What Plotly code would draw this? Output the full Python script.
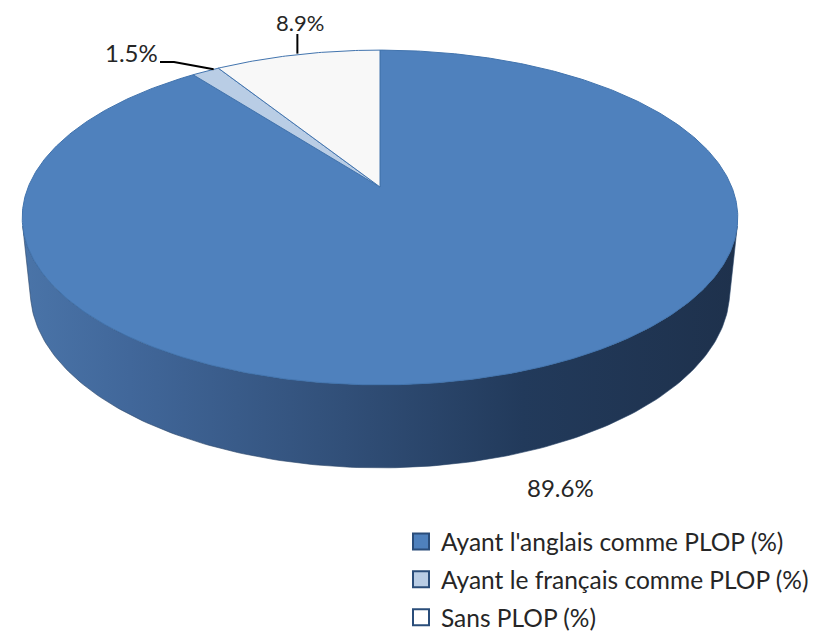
import numpy as np
import plotly.graph_objects as go

# ---------------- data ----------------
categories = ["Ayant l'anglais comme PLOP (%)",
              "Ayant le français comme PLOP (%)",
              "Sans PLOP (%)"]
values = [89.6, 1.5, 8.9]
slice_colors = ["#4F81BD", "#B9CDE5", "#F8F8F8"]
wall_scales = [
    [[0, "#4A74A8"], [0.15, "#41679A"], [0.45, "#314F78"], [0.7, "#223A5B"], [1, "#1E314C"]],
    [[0, "#A6B9CF"], [1, "#6F7F92"]],
    [[0, "#E0E0E0"], [1, "#A0A0A0"]],
]
label_pos = [(560, 487), (131, 52), (300, 22)]  # label text centres (px)
label_size = [24, 24, 22]

# ---------------- projection (3-D pie look) ----------------
W, HGT = 817, 640
OFF = 8  # page body margin compensation
CX, CY = 380.0, 187.0
F = 1715.0
DIST = 4.875
S = 0.46
C = np.sqrt(1 - S * S)
DEPTH = 0.2375
FONT = "Lato"


def proj(X, Z, Yw=0.0):
    d = -S * Yw + DIST - C * Z
    w = C * Yw - S * Z
    return CX + F * X / d, CY - F * w / d


def rim(a0, a1, Yw=0.0, n=200):
    a = np.linspace(a0, a1, max(int(n * abs(a1 - a0) / (2 * np.pi)) + 2, 3))
    return proj(np.sin(a), -np.cos(a), Yw)


total = sum(values)
fracs = np.cumsum([0] + [v / total for v in values])
angles = 2 * np.pi * fracs

fig = go.Figure()

# visible wall range (silhouette generators)
z0 = 1.0 / (DIST * C)
a_r = np.arccos(-z0)
a_l = 2 * np.pi - a_r

# walls
for i in range(len(values)):
    lo, hi = max(angles[i], a_r), min(angles[i + 1], a_l)
    if hi <= lo:
        continue
    tx, ty = rim(lo, hi, 0.0, 400)
    bx, by = rim(lo, hi, -DEPTH, 400)
    xs = np.concatenate([tx, bx[::-1], tx[:1]])
    ys = np.concatenate([ty, by[::-1], ty[:1]])
    fig.add_trace(go.Scatter(
        x=xs, y=ys, mode="lines", fill="toself",
        line=dict(width=0.6, color="#2A4468"),
        fillgradient=dict(type="horizontal", colorscale=wall_scales[i]),
        hoverinfo="skip", showlegend=False))

# top faces
ox, oy = proj(0.0, 0.0)
for i in range(len(values)):
    rx, ry = rim(angles[i], angles[i + 1], 0.0, 600)
    xs = np.concatenate([[ox], rx, [ox]])
    ys = np.concatenate([[oy], ry, [oy]])
    fig.add_trace(go.Scatter(
        x=xs, y=ys, mode="lines", fill="toself",
        fillcolor=slice_colors[i],
        line=dict(width=1, color="#4274AE"),
        hoverinfo="skip", showlegend=False))

# labels and leader lines
annotations = []
for i, v in enumerate(values):
    lx, ly = label_pos[i]
    annotations.append(dict(x=lx, y=ly, xref="x", yref="y", text=f"{v}%",
                            showarrow=False,
                            font=dict(family=FONT, size=label_size[i], color="#262626"),
                            xanchor="center", yanchor="middle", borderpad=0))
    mid = (angles[i] + angles[i + 1]) / 2
    mx, my = proj(np.sin(mid), -np.cos(mid))
    if i == 1:
        lxs = [lx + 29, lx + 43, mx + 8]
        lys = [ly + 10, ly + 10, my - 2]
    elif i == 2:
        lxs = [mx, mx]
        lys = [ly + 12, my - 1]
    else:
        continue
    fig.add_trace(go.Scatter(x=lxs, y=lys, mode="lines",
                             line=dict(color="#000000", width=2),
                             hoverinfo="skip", showlegend=False))

# legend entries
for i, cat in enumerate(categories):
    fig.add_trace(go.Scatter(
        x=[None], y=[None], mode="markers", name=cat, legendgroup=f"g{i}",
        marker=dict(symbol="square", size=16, color=slice_colors[i] if i < 2 else "#FFFFFF",
                    line=dict(width=2, color="#2A4D7A"))))

fig.update_layout(
    width=W, height=HGT,
    margin=dict(l=0, r=0, t=0, b=0),
    paper_bgcolor="white", plot_bgcolor="white",
    xaxis=dict(range=[OFF, W + OFF], visible=False, fixedrange=True),
    yaxis=dict(range=[HGT + OFF, OFF], visible=False, fixedrange=True),
    annotations=annotations,
    showlegend=True,
    legend=dict(x=(401 - OFF) / W, y=1 - (519 - OFF) / HGT, xanchor="left", yanchor="top",
                font=dict(family=FONT, size=24.5, color="#262626"),
                traceorder="grouped", tracegroupgap=3,
                bgcolor="rgba(0,0,0,0)", itemclick=False, itemdoubleclick=False),
)

fig.write_html("out.html")
